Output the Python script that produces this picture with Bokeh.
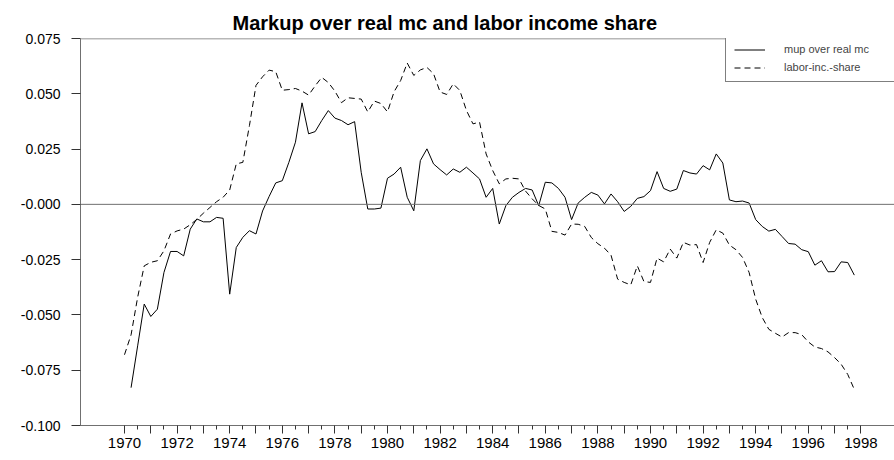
from bokeh.plotting import figure
from bokeh.models import Range1d, FixedTicker, Span, Legend, LegendItem
from bokeh.embed import file_html
from bokeh.resources import INLINE

# ---- data (quarterly) ----
markup_start = 1970.25
markup = [
    -0.0829, -0.0640, -0.0451,
    -0.0507, -0.0474, -0.0308, -0.0213,   # 1971
    -0.0213, -0.0233, -0.0112, -0.0066,   # 1972
    -0.0079, -0.0079, -0.0059, -0.0063,   # 1973
    -0.0406, -0.0195, -0.0149, -0.0119,   # 1974
    -0.0134, -0.0030, 0.0036, 0.0097,     # 1975
    0.0107, 0.0190, 0.0281, 0.0459,       # 1976
    0.0319, 0.0329, 0.0379, 0.0424,       # 1977
    0.0390, 0.0379, 0.0360, 0.0374,       # 1978
    0.0145, -0.0021, -0.0021, -0.0017,    # 1979
    0.0118, 0.0137, 0.0168, 0.0032,       # 1980
    -0.0029, 0.0198, 0.0251, 0.0183,      # 1981
    0.0157, 0.0133, 0.0160, 0.0145,       # 1982
    0.0168, 0.0142, 0.0115, 0.0032,       # 1983
    0.0072, -0.0089, -0.0006, 0.0032,     # 1984
    0.0054, 0.0072, 0.0065, -0.0006,      # 1985
    0.0100, 0.0097, 0.0072, 0.0032,       # 1986
    -0.0069, 0.0006, 0.0032, 0.0054,      # 1987
    0.0042, 0.0002, 0.0047, 0.0012,       # 1988
    -0.0032, -0.0009, 0.0027, 0.0035,     # 1989
    0.0062, 0.0148, 0.0072, 0.0059,       # 1990
    0.0069, 0.0153, 0.0142, 0.0137,       # 1991
    0.0175, 0.0156, 0.0228, 0.0187,       # 1992
    0.0020, 0.0012, 0.0015, 0.0006,       # 1993
    -0.0069, -0.0100, -0.0121, -0.0113,   # 1994
    -0.0145, -0.0177, -0.0180, -0.0205,   # 1995
    -0.0214, -0.0275, -0.0255, -0.0305,   # 1996
    -0.0304, -0.0260, -0.0263, -0.0320,   # 1997
]

labor_start = 1970.0
labor_share = [
    -0.0680, -0.0590, -0.0420, -0.0278,   # 1970
    -0.0262, -0.0255, -0.0210, -0.0134,   # 1971
    -0.0120, -0.0112, -0.0092, -0.0068,   # 1972
    -0.0040, -0.0014, 0.0012, 0.0032,     # 1973
    0.0065, 0.0183, 0.0190, 0.0356,       # 1974
    0.0538, 0.0577, 0.0607, 0.0600,       # 1975
    0.0516, 0.0519, 0.0524, 0.0512,       # 1976
    0.0494, 0.0536, 0.0574, 0.0551,       # 1977
    0.0512, 0.0460, 0.0482, 0.0479,       # 1978
    0.0476, 0.0418, 0.0467, 0.0456,       # 1979
    0.0418, 0.0509, 0.0560, 0.0639,       # 1980
    0.0583, 0.0608, 0.0619, 0.0591,       # 1981
    0.0508, 0.0497, 0.0545, 0.0515,       # 1982
    0.0425, 0.0364, 0.0372, 0.0228,       # 1983
    0.0153, 0.0093, 0.0115, 0.0118,       # 1984
    0.0115, 0.0060, 0.0025, -0.0005,      # 1985
    -0.0021, -0.0122, -0.0127, -0.0139,   # 1986
    -0.0089, -0.0090, -0.0100, -0.0150,   # 1987
    -0.0178, -0.0198, -0.0230, -0.0338,   # 1988
    -0.0353, -0.0364, -0.0278, -0.0349,   # 1989
    -0.0353, -0.0243, -0.0260, -0.0202,   # 1990
    -0.0243, -0.0172, -0.0184, -0.0182,   # 1991
    -0.0263, -0.0172, -0.0115, -0.0130,   # 1992
    -0.0184, -0.0205, -0.0240, -0.0308,   # 1993
    -0.0429, -0.0512, -0.0565, -0.0583,   # 1994
    -0.0600, -0.0580, -0.0580, -0.0589,   # 1995
    -0.0622, -0.0645, -0.0652, -0.0667,   # 1996
    -0.0693, -0.0723, -0.0769, -0.0837,   # 1997
]

year_ticks = list(range(1970, 1999))
half_year_ticks = [y + 0.5 for y in range(1970, 1998)]
y_ticks = [0.075, 0.050, 0.025, 0.0, -0.025, -0.050, -0.075, -0.100]
y_tick_labels = ["0.075", "0.050", "0.025", "-0.000", "-0.025", "-0.050", "-0.075", "-0.100"]
series_names = ["mup over real mc", "labor-inc.-share"]
title_text = "Markup over real mc and labor income share"

t_markup = [markup_start + 0.25 * i for i in range(len(markup))]
t_labor = [labor_start + 0.25 * i for i in range(len(labor_share))]

FONT = "Liberation Sans"
GRAY = "#707070"

p = figure(width=894, height=460, output_backend="svg", toolbar_location=None,
           x_range=Range1d(1968.327, 1999.278), y_range=Range1d(-0.100, 0.075),
           min_border_left=80, min_border_right=0, min_border_top=38, min_border_bottom=35,
           background_fill_color="white", border_fill_color="white")
p.outline_line_color = None
p.grid.visible = False

p.title.text = title_text
p.title.align = "left"
p.title.offset = 152
p.title.text_font = FONT
p.title.text_font_style = "bold"
p.title.text_font_size = "20px"
p.title.text_color = "black"
p.title.standoff = 9

# axes
xa = p.xaxis[0]
xa.ticker = FixedTicker(ticks=year_ticks, minor_ticks=half_year_ticks)
xa.major_label_overrides = {y: (str(y) if y % 2 == 0 else "") for y in year_ticks}
xa.major_tick_in = 0
xa.major_tick_out = 8
xa.minor_tick_in = 0
xa.minor_tick_out = 4
xa.major_label_standoff = 4
ya = p.yaxis[0]
ya.ticker = FixedTicker(ticks=y_ticks)
ya.major_label_overrides = dict(zip(y_ticks, y_tick_labels))
ya.major_tick_in = 0
ya.major_tick_out = 9
ya.major_label_standoff = 11
for ax, fs in ((xa, "15px"), (ya, "14px")):
    ax.axis_line_color = GRAY
    ax.major_tick_line_color = "#333333"
    ax.major_label_text_font = FONT
    ax.major_label_text_font_size = fs
    ax.major_label_text_color = "black"
xa.minor_tick_line_color = "#333333"
ya.minor_tick_line_color = None

# frame top line and zero line
p.add_layout(Span(location=0.075, dimension="width", line_color=GRAY, line_width=1.5))
p.add_layout(Span(location=0.0, dimension="width", line_color=GRAY, line_width=1))

r1 = p.line(t_markup, markup, line_color="black", line_width=1)
r2 = p.line(t_labor, labor_share, line_color="black", line_width=1, line_dash="6 4")

legend = Legend(items=[LegendItem(label=series_names[0], renderers=[r1]),
                       LegendItem(label=series_names[1], renderers=[r2])],
                location=(645, 343), padding=8, spacing=6, margin=0,
                glyph_width=31, glyph_height=11, label_height=11,
                label_standoff=19, label_width=120,
                border_line_color="black", border_line_width=1,
                background_fill_color="white", background_fill_alpha=1,
                label_text_font=FONT, label_text_font_size="11px")
p.add_layout(legend)

open("out.html", "w").write(file_html(p, INLINE))
